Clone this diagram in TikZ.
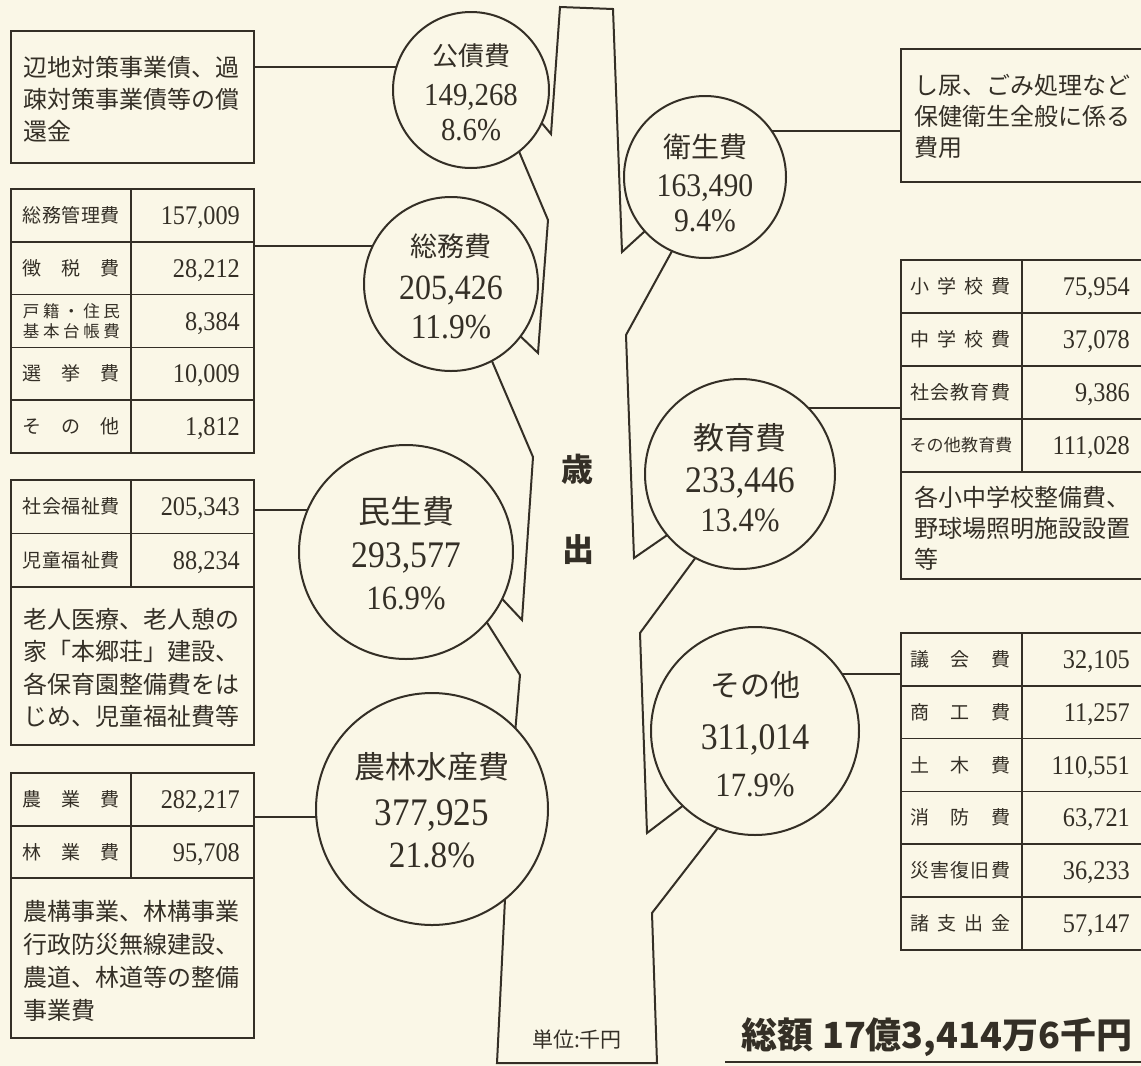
\documentclass[tikz,border=0pt]{standalone}
\usepackage{fontspec}
\newfontfamily\jp{Noto Sans CJK JP}
\newfontfamily\num[FakeStretch=0.9]{Liberation Serif}
\definecolor{bg}{RGB}{250,247,231}
\definecolor{ink}{RGB}{52,47,38}
\newcommand\spr[2]{\makebox[#1][s]{#2}}
\tikzset{
  ln/.style={draw=ink, line width=2pt, line join=miter},
  thin/.style={draw=ink, line width=1.6pt},
  circ/.style={circle, draw=ink, fill=bg, line width=2pt, inner sep=0pt, outer sep=0pt, minimum size=#1},
  tbl/.style={rectangle, draw=ink, line width=2pt, inner sep=0pt, outer sep=0pt, anchor=north west},
  jt/.style={font=\jp\fontsize{#1}{#1}\selectfont, text=ink, inner sep=0pt, text height={0.81*#1pt}, text depth={0.07*#1pt}},
  nt/.style={font=\num\fontsize{#1}{#1}\selectfont, text=ink, inner sep=0pt, text height={0.68*#1pt}, text depth=0pt},
  bt/.style={font=\jp\bfseries\fontsize{#1}{#1}\selectfont, text=ink, inner sep=0pt, text height={0.81*#1pt}, text depth={0.07*#1pt}},
}
\begin{document}
\begin{tikzpicture}[x=1pt,y=-1pt]
\useasboundingbox (0,0) rectangle (1141,1066);
\fill[bg] (0,0) rectangle (1141,1066);

% ---------- circles ----------
\node[circ=156pt] (kousai) at (471,90) {};
\node[circ=174pt] (soumu) at (451,284) {};
\node[circ=214pt] (minsei) at (406,552) {};
\node[circ=232pt] (nourin) at (432,809) {};
\node[circ=162pt] (eisei) at (705,177) {};
\node[circ=190pt] (kyouiku) at (740,474) {};
\node[circ=208pt] (sonota) at (755,731) {};

% ---------- trunk ----------
\coordinate (T1) at (560,7);
\coordinate (T2) at (613,9);
\coordinate (L1) at (551,134);
\coordinate (L2) at (548,220);
\coordinate (L3) at (538,353);
\coordinate (L4) at (533,457);
\coordinate (L5) at (522,620);
\coordinate (L6) at (520,675);
\coordinate (R1) at (622,252);
\coordinate (R2) at (626,335);
\coordinate (R3) at (634,558);
\coordinate (R4) at (640,633);
\coordinate (R5) at (647,833);
\coordinate (R6) at (652,913);
\coordinate (B1) at (497,1063);
\coordinate (B2) at (657,1063);

\draw[ln] (kousai.-25.6) -- (L1) -- (T1) -- (T2) -- (R1) -- (eisei.-138.9);
\draw[ln] (kousai.-52.8) -- (L2) -- (L3) -- (soumu.-37.5);
\draw[ln] (soumu.-62.3) -- (L4) -- (L5) -- (minsei.-26.8);
\draw[ln] (minsei.-41.8) -- (L6) -- (nourin.44.7);
\draw[ln] (nourin.-51) -- (B1) -- (B2) -- (R6) -- (sonota.-111.1);
\draw[ln] (eisei.-114.7) -- (R2) -- (R3) -- (kyouiku.-140.7);
\draw[ln] (kyouiku.-118) -- (R4) -- (R5) -- (sonota.-134.2);

% ---------- circle texts ----------
\node[jt=26] (k1) at (471,56) {公債費};
\node[nt=32] (k2) at (471,95) {149,268};
\node[nt=32] (k3) at (471,130) {8.6\%};

\node[jt=27] (s1) at (451,247) {総務費};
\node[nt=35.5] (s2) at (451,287) {205,426};
\node[nt=35] (s3) at (451,327) {11.9\%};

\node[jt=32] (m1) at (406,512) {民生費};
\node[nt=37.5] (m2) at (406,555) {293,577};
\node[nt=34] (m3) at (406,598) {16.9\%};

\node[jt=31] (n1) at (432,767) {農林水産費};
\node[nt=39] (n2) at (432,812) {377,925};
\node[nt=37] (n3) at (432,855) {21.8\%};

\node[jt=28] (e1) at (705,147) {衛生費};
\node[nt=33] (e2) at (705,185) {163,490};
\node[nt=33] (e3) at (705,220) {9.4\%};

\node[jt=31] (y1) at (740,438) {教育費};
\node[nt=37.5] (y2) at (740,480) {233,446};
\node[nt=34] (y3) at (740,520) {13.4\%};

\node[jt=30] (o1) at (755,685) {その他};
\node[nt=37.5] (o2) at (755,737) {311,014};
\node[nt=34] (o3) at (755,785) {17.9\%};

% ---------- centre labels ----------
\node[bt=32] (sai) at (577,470) {歳};
\node[bt=32] (shutsu) at (578,550) {出};
\node[jt=21] (unit) at (577,1040) {単位:千円};

% ---------- left boxes ----------
\node[tbl, minimum width=243pt, minimum height=132pt] (box1) at (11,31) {};
\node[jt=24, anchor=west] (b1a) at (23,68) {辺地対策事業債、過};
\node[jt=24, anchor=west] (b1b) at (23,100) {疎対策事業債等の償};
\node[jt=24, anchor=west] (b1c) at (23,132) {還金};

\node[tbl, minimum width=243pt, minimum height=264pt] (soumuT) at (11,189) {};
\draw[thin] (131,189) -- (131,453);
\foreach \yy in {241.8,294.6,347.4,400.2} \draw[thin] (11,\yy) -- (254,\yy);
\node[jt=19] (sa1) at (71.5,215.4) {\spr{97pt}{総\hfill 務\hfill 管\hfill 理\hfill 費}};
\node[jt=19] (sa2) at (71.5,268.2) {\spr{97pt}{徴\hfill 税\hfill 費}};
\node[jt=16.5] (sa3) at (71.5,311) {\spr{97pt}{戸\hfill 籍\hfill ・\hfill 住\hfill 民}};
\node[jt=16.5] (sa3b) at (71.5,331) {\spr{97pt}{基\hfill 本\hfill 台\hfill 帳\hfill 費}};
\node[jt=19] (sa4) at (71.5,373.8) {\spr{97pt}{選\hfill 挙\hfill 費}};
\node[jt=19] (sa5) at (71.5,426.6) {\spr{97pt}{そ\hfill の\hfill 他}};
\node[nt=27, anchor=east] (sv1) at (240,215.4) {157,009};
\node[nt=27, anchor=east] (sv2) at (240,268.2) {28,212};
\node[nt=27, anchor=east] (sv3) at (240,321) {8,384};
\node[nt=27, anchor=east] (sv4) at (240,373.8) {10,009};
\node[nt=27, anchor=east] (sv5) at (240,426.6) {1,812};

\node[tbl, minimum width=243pt, minimum height=265pt] (minseiT) at (11,480) {};
\draw[thin] (131,480) -- (131,587);
\draw[thin] (11,533.5) -- (254,533.5);
\draw[thin] (11,587) -- (254,587);
\node[jt=19] (ma1) at (71.5,506.8) {\spr{97pt}{社\hfill 会\hfill 福\hfill 祉\hfill 費}};
\node[jt=19] (ma2) at (71.5,560.3) {\spr{97pt}{児\hfill 童\hfill 福\hfill 祉\hfill 費}};
\node[nt=27, anchor=east] (mv1) at (240,506.8) {205,343};
\node[nt=27, anchor=east] (mv2) at (240,560.3) {88,234};
\node[jt=24, anchor=west] (mt1) at (23,620) {老人医療、老人憩の};
\node[jt=24, anchor=west] (mt2) at (23,652) {家「本郷荘」建設、};
\node[jt=24, anchor=west] (mt3) at (23,685) {各保育園整備費をは};
\node[jt=24, anchor=west] (mt4) at (23,717) {じめ、児童福祉費等};

\node[tbl, minimum width=243pt, minimum height=265pt] (nourinT) at (11,773) {};
\draw[thin] (131,773) -- (131,878);
\draw[thin] (11,826) -- (254,826);
\draw[thin] (11,878) -- (254,878);
\node[jt=19] (na1) at (71.5,799.5) {\spr{97pt}{農\hfill 業\hfill 費}};
\node[jt=19] (na2) at (71.5,852) {\spr{97pt}{林\hfill 業\hfill 費}};
\node[nt=27, anchor=east] (nv1) at (240,799.5) {282,217};
\node[nt=27, anchor=east] (nv2) at (240,852) {95,708};
\node[jt=24, anchor=west] (nt1) at (23,912) {農構事業、林構事業};
\node[jt=24, anchor=west] (nt2) at (23,945) {行政防災無線建設、};
\node[jt=24, anchor=west] (nt3) at (23,978) {農道、林道等の整備};
\node[jt=24, anchor=west] (nt4) at (23,1011) {事業費};

% ---------- right boxes ----------
\node[tbl, minimum width=246pt, minimum height=133pt] (eiseiB) at (901,49) {};
\node[jt=24, anchor=west] (e1a) at (914,86) {し尿、ごみ処理など};
\node[jt=24, anchor=west] (e1b) at (914,117) {保健衛生全般に係る};
\node[jt=24, anchor=west] (e1c) at (914,148) {費用};

\node[tbl, minimum width=246pt, minimum height=319pt] (kyouikuT) at (901,260) {};
\draw[thin] (1022,260) -- (1022,472);
\foreach \yy in {313,366,419,472} \draw[thin] (901,\yy) -- (1147,\yy);
\node[jt=19] (ya1) at (960,286.5) {\spr{100pt}{小\hfill 学\hfill 校\hfill 費}};
\node[jt=19] (ya2) at (960,339.5) {\spr{100pt}{中\hfill 学\hfill 校\hfill 費}};
\node[jt=19] (ya3) at (960,392.5) {\spr{100pt}{社\hfill 会\hfill 教\hfill 育\hfill 費}};
\node[jt=17] (ya4) at (961,445.5) {\spr{103pt}{そ\hfill の\hfill 他\hfill 教\hfill 育\hfill 費}};
\node[nt=27, anchor=east] (yv1) at (1130,286.5) {75,954};
\node[nt=27, anchor=east] (yv2) at (1130,339.5) {37,078};
\node[nt=27, anchor=east] (yv3) at (1130,392.5) {9,386};
\node[nt=27, anchor=east] (yv4) at (1130,445.5) {111,028};
\node[jt=24, anchor=west] (yt1) at (914,498) {各小中学校整備費、};
\node[jt=24, anchor=west] (yt2) at (914,529) {野球場照明施設設置};
\node[jt=24, anchor=west] (yt3) at (914,560) {等};

\node[tbl, minimum width=246pt, minimum height=317pt] (sonotaT) at (901,633) {};
\draw[thin] (1022,633) -- (1022,950);
\foreach \yy in {685.8,738.6,791.4,844.2,897} \draw[thin] (901,\yy) -- (1147,\yy);
\node[jt=19] (oa1) at (960,659.4) {\spr{100pt}{議\hfill 会\hfill 費}};
\node[jt=19] (oa2) at (960,712.2) {\spr{100pt}{商\hfill 工\hfill 費}};
\node[jt=19] (oa3) at (960,765) {\spr{100pt}{土\hfill 木\hfill 費}};
\node[jt=19] (oa4) at (960,817.8) {\spr{100pt}{消\hfill 防\hfill 費}};
\node[jt=19] (oa5) at (960,870.6) {\spr{100pt}{災\hfill 害\hfill 復\hfill 旧\hfill 費}};
\node[jt=19] (oa6) at (960,923.4) {\spr{100pt}{諸\hfill 支\hfill 出\hfill 金}};
\node[nt=27, anchor=east] (ov1) at (1130,659.4) {32,105};
\node[nt=27, anchor=east] (ov2) at (1130,712.2) {11,257};
\node[nt=27, anchor=east] (ov3) at (1130,765) {110,551};
\node[nt=27, anchor=east] (ov4) at (1130,817.8) {63,721};
\node[nt=27, anchor=east] (ov5) at (1130,870.6) {36,233};
\node[nt=27, anchor=east] (ov6) at (1130,923.4) {57,147};

% ---------- connectors ----------
\draw[ln] (box1.east |- kousai.163.6) -- (kousai.163.6);
\draw[ln] (soumuT.east |- soumu.154.8) -- (soumu.154.8);
\draw[ln] (minseiT.east |- minsei.157.5) -- (minsei.157.5);
\draw[ln] (nourinT.east |- nourin.184) -- (nourin.184);
\draw[ln] (eisei.35.5) -- (eisei.35.5 -| eiseiB.west);
\draw[ln] (kyouiku.44) -- (kyouiku.44 -| kyouikuT.west);
\draw[ln] (sonota.33.9) -- (sonota.33.9 -| sonotaT.west);

% ---------- total ----------
\node[bt=36] (total) at (937,1035) {総額 17億3,414万6千円};
\coordinate (u1) at (725,1062);
\draw[ln] (u1) -- (u1 -| 1150,0);
\end{tikzpicture}
\end{document}
